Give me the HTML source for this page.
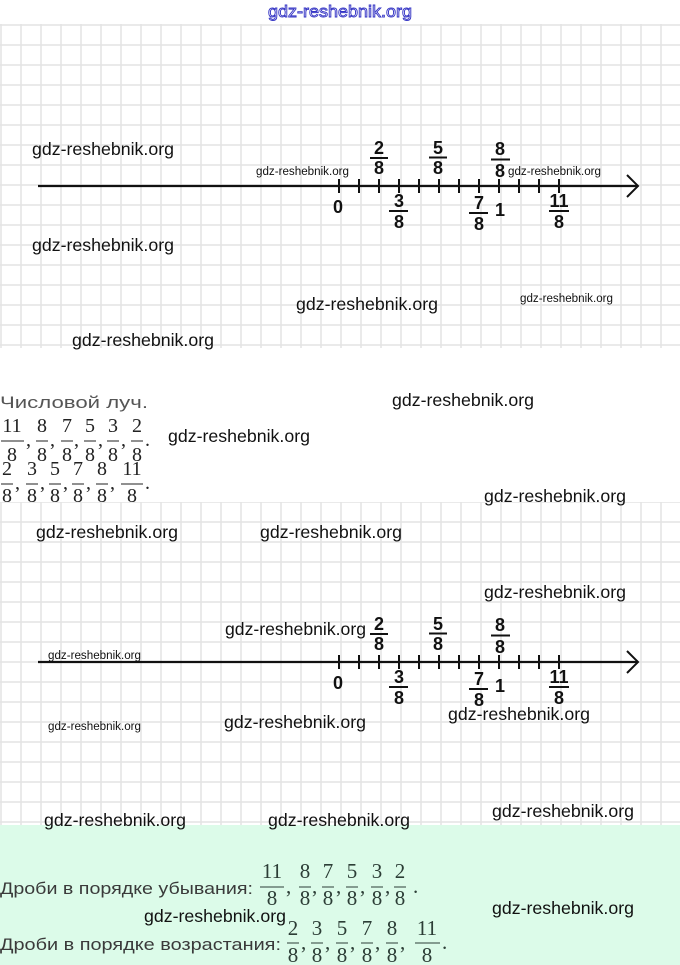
<!DOCTYPE html>
<html>
<head>
<meta charset="utf-8">
<style>
html,body{margin:0;padding:0;background:#fff;}
svg{display:block;}
.wl{font-family:"Liberation Sans",sans-serif;font-size:17.5px;fill:#111;}
.ws{font-family:"Liberation Sans",sans-serif;font-size:11.5px;fill:#111;}
.nl{font-family:"Liberation Sans",sans-serif;font-size:18px;font-weight:bold;fill:#111;}
.fr{font-family:"Liberation Serif",serif;font-size:20px;fill:#222;}
.fb{font-family:"Liberation Serif",serif;font-size:21px;fill:#2c3d36;}
</style>
</head>
<body>
<svg width="680" height="965" viewBox="0 0 680 965" xmlns="http://www.w3.org/2000/svg">
<defs>
<pattern id="g1" patternUnits="userSpaceOnUse" x="-9" y="15" width="20" height="20">
<path d="M10 0V20M0 10H20" stroke="#e3e3e3" stroke-width="1.5" fill="none"/>
</pattern>
<pattern id="g2" patternUnits="userSpaceOnUse" x="-9" y="492" width="20" height="20">
<path d="M10 0V20M0 10H20" stroke="#e3e3e3" stroke-width="1.5" fill="none"/>
</pattern>
<g id="line">
<line x1="38" y1="186" x2="638" y2="186" stroke="#111" stroke-width="2.2"/>
<polyline points="627,175 638,186 627,197" fill="none" stroke="#111" stroke-width="2"/>
<g stroke="#111" stroke-width="2">
<line x1="339" y1="179" x2="339" y2="193"/><line x1="359" y1="179" x2="359" y2="193"/>
<line x1="379" y1="179" x2="379" y2="193"/><line x1="399" y1="179" x2="399" y2="193"/>
<line x1="419" y1="179" x2="419" y2="193"/><line x1="439" y1="179" x2="439" y2="193"/>
<line x1="459" y1="179" x2="459" y2="193"/><line x1="479" y1="179" x2="479" y2="193"/>
<line x1="499" y1="179" x2="499" y2="193"/><line x1="519" y1="179" x2="519" y2="193"/>
<line x1="539" y1="179" x2="539" y2="193"/><line x1="559" y1="179" x2="559" y2="193"/>
</g>
<g class="nl" text-anchor="middle">
<text x="379" y="154">2</text><text x="379" y="174">8</text>
<text x="438" y="154">5</text><text x="438" y="174">8</text>
<text x="500" y="155">8</text><text x="500" y="177">8</text>
<text x="399" y="207">3</text><text x="399" y="228">8</text>
<text x="479" y="209">7</text><text x="479" y="230">8</text>
<text x="559" y="207">11</text><text x="559" y="228">8</text>
<text x="338" y="213">0</text>
<text x="500" y="216">1</text>
</g>
<g stroke="#111" stroke-width="2">
<line x1="370" y1="158" x2="388" y2="158"/>
<line x1="429" y1="157.5" x2="447" y2="157.5"/>
<line x1="491" y1="159.5" x2="510" y2="159.5"/>
<line x1="389" y1="211" x2="408" y2="211"/>
<line x1="469" y1="213" x2="488" y2="213"/>
<line x1="549" y1="211" x2="569" y2="211"/>
</g>
</g>
</defs>

<!-- header -->
<text x="268" y="17" textLength="144" lengthAdjust="spacingAndGlyphs" font-family="Liberation Sans, sans-serif" font-size="17" fill="#ffffff" stroke="#3434c4" stroke-width="0.9">gdz-reshebnik.org</text>

<!-- grid section 1 -->
<rect x="0" y="24" width="680" height="324" fill="url(#g1)"/>
<use href="#line"/>

<!-- middle text -->
<text x="0" y="408" textLength="148" lengthAdjust="spacingAndGlyphs" font-family="Liberation Sans, sans-serif" font-size="16.5" fill="#555">Числовой луч.</text>

<g class="fr" text-anchor="middle">
<text x="12" y="432">11</text><text x="12" y="461">8</text>
<text x="42" y="432">8</text><text x="42" y="461">8</text>
<text x="67" y="432">7</text><text x="67" y="461">8</text>
<text x="90" y="432">5</text><text x="90" y="461">8</text>
<text x="113" y="432">3</text><text x="113" y="461">8</text>
<text x="137" y="432">2</text><text x="137" y="461">8</text>
<text x="7" y="475">2</text><text x="7" y="502">8</text>
<text x="32" y="475">3</text><text x="32" y="502">8</text>
<text x="55" y="475">5</text><text x="55" y="502">8</text>
<text x="78" y="475">7</text><text x="78" y="502">8</text>
<text x="102" y="475">8</text><text x="102" y="502">8</text>
<text x="132" y="475">11</text><text x="132" y="502">8</text>
</g>
<g stroke="#222" stroke-width="1">
<line x1="1" y1="441" x2="24" y2="441"/><line x1="36" y1="441" x2="48" y2="441"/>
<line x1="61" y1="441" x2="73" y2="441"/><line x1="84" y1="441" x2="96" y2="441"/>
<line x1="107" y1="441" x2="119" y2="441"/><line x1="131" y1="441" x2="143" y2="441"/>
<line x1="1" y1="484" x2="13" y2="484"/><line x1="26" y1="484" x2="38" y2="484"/>
<line x1="49" y1="484" x2="61" y2="484"/><line x1="72" y1="484" x2="84" y2="484"/>
<line x1="96" y1="484" x2="108" y2="484"/><line x1="121" y1="484" x2="143" y2="484"/>
</g>
<g class="fr">
<text x="26" y="446">,</text><text x="50" y="446">,</text><text x="74" y="446">,</text>
<text x="98" y="446">,</text><text x="121" y="446">,</text><text x="145" y="446">.</text>
<text x="15" y="489">,</text><text x="40" y="489">,</text><text x="63" y="489">,</text>
<text x="86" y="489">,</text><text x="110" y="489">,</text><text x="145" y="489">.</text>
</g>

<!-- grid section 2 -->
<rect x="0" y="502" width="680" height="323" fill="url(#g2)"/>
<use href="#line" transform="translate(0,476)"/>

<!-- green bottom -->
<rect x="0" y="825" width="680" height="140" fill="#dcfbe9"/>

<text x="0" y="894" textLength="253" lengthAdjust="spacingAndGlyphs" font-family="Liberation Sans, sans-serif" font-size="17" fill="#3a3a3a">Дроби в порядке убывания:</text>
<text x="0" y="950" textLength="281" lengthAdjust="spacingAndGlyphs" font-family="Liberation Sans, sans-serif" font-size="17" fill="#3a3a3a">Дроби в порядке возрастания:</text>

<g class="fb" text-anchor="middle">
<text x="272" y="878">11</text><text x="272" y="905">8</text>
<text x="305" y="878">8</text><text x="305" y="905">8</text>
<text x="328" y="878">7</text><text x="328" y="905">8</text>
<text x="352" y="878">5</text><text x="352" y="905">8</text>
<text x="377" y="878">3</text><text x="377" y="905">8</text>
<text x="400" y="878">2</text><text x="400" y="905">8</text>
<text x="293" y="935">2</text><text x="293" y="962">8</text>
<text x="317" y="935">3</text><text x="317" y="962">8</text>
<text x="342" y="935">5</text><text x="342" y="962">8</text>
<text x="367" y="935">7</text><text x="367" y="962">8</text>
<text x="392" y="935">8</text><text x="392" y="962">8</text>
<text x="427" y="935">11</text><text x="427" y="962">8</text>
</g>
<g stroke="#2c3d36" stroke-width="1">
<line x1="260" y1="887" x2="284" y2="887"/><line x1="299" y1="887" x2="311" y2="887"/>
<line x1="322" y1="887" x2="334" y2="887"/><line x1="346" y1="887" x2="358" y2="887"/>
<line x1="371" y1="887" x2="383" y2="887"/><line x1="394" y1="887" x2="406" y2="887"/>
<line x1="287" y1="943" x2="299" y2="943"/><line x1="311" y1="943" x2="323" y2="943"/>
<line x1="336" y1="943" x2="348" y2="943"/><line x1="361" y1="943" x2="373" y2="943"/>
<line x1="386" y1="943" x2="398" y2="943"/><line x1="415" y1="943" x2="440" y2="943"/>
</g>
<g class="fb">
<text x="286" y="893">,</text><text x="312" y="893">,</text><text x="336" y="893">,</text>
<text x="360" y="893">,</text><text x="385" y="893">,</text><text x="413" y="893">.</text>
<text x="301" y="949">,</text><text x="325" y="949">,</text><text x="350" y="949">,</text>
<text x="375" y="949">,</text><text x="400" y="949">,</text><text x="442" y="949">.</text>
</g>

<!-- watermarks large -->
<g class="wl">
<text x="32" y="155" textLength="142" lengthAdjust="spacingAndGlyphs">gdz-reshebnik.org</text>
<text x="32" y="251" textLength="142" lengthAdjust="spacingAndGlyphs">gdz-reshebnik.org</text>
<text x="296" y="310" textLength="142" lengthAdjust="spacingAndGlyphs">gdz-reshebnik.org</text>
<text x="72" y="346" textLength="142" lengthAdjust="spacingAndGlyphs">gdz-reshebnik.org</text>
<text x="392" y="406" textLength="142" lengthAdjust="spacingAndGlyphs">gdz-reshebnik.org</text>
<text x="168" y="442" textLength="142" lengthAdjust="spacingAndGlyphs">gdz-reshebnik.org</text>
<text x="484" y="502" textLength="142" lengthAdjust="spacingAndGlyphs">gdz-reshebnik.org</text>
<text x="36" y="538" textLength="142" lengthAdjust="spacingAndGlyphs">gdz-reshebnik.org</text>
<text x="260" y="538" textLength="142" lengthAdjust="spacingAndGlyphs">gdz-reshebnik.org</text>
<text x="484" y="598" textLength="142" lengthAdjust="spacingAndGlyphs">gdz-reshebnik.org</text>
<text x="225" y="635" textLength="141" lengthAdjust="spacingAndGlyphs">gdz-reshebnik.org</text>
<text x="224" y="728" textLength="142" lengthAdjust="spacingAndGlyphs">gdz-reshebnik.org</text>
<text x="448" y="720" textLength="142" lengthAdjust="spacingAndGlyphs">gdz-reshebnik.org</text>
<text x="492" y="817" textLength="142" lengthAdjust="spacingAndGlyphs">gdz-reshebnik.org</text>
<text x="44" y="826" textLength="142" lengthAdjust="spacingAndGlyphs">gdz-reshebnik.org</text>
<text x="268" y="826" textLength="142" lengthAdjust="spacingAndGlyphs">gdz-reshebnik.org</text>
<text x="144" y="922" textLength="142" lengthAdjust="spacingAndGlyphs">gdz-reshebnik.org</text>
<text x="492" y="914" textLength="142" lengthAdjust="spacingAndGlyphs">gdz-reshebnik.org</text>
</g>
<!-- watermarks small -->
<g class="ws">
<text x="256" y="175" textLength="93" lengthAdjust="spacingAndGlyphs">gdz-reshebnik.org</text>
<text x="508" y="175" textLength="93" lengthAdjust="spacingAndGlyphs">gdz-reshebnik.org</text>
<text x="520" y="302" textLength="93" lengthAdjust="spacingAndGlyphs">gdz-reshebnik.org</text>
<text x="48" y="659" textLength="93" lengthAdjust="spacingAndGlyphs">gdz-reshebnik.org</text>
<text x="48" y="730" textLength="93" lengthAdjust="spacingAndGlyphs">gdz-reshebnik.org</text>
</g>
</svg>
</body>
</html>
